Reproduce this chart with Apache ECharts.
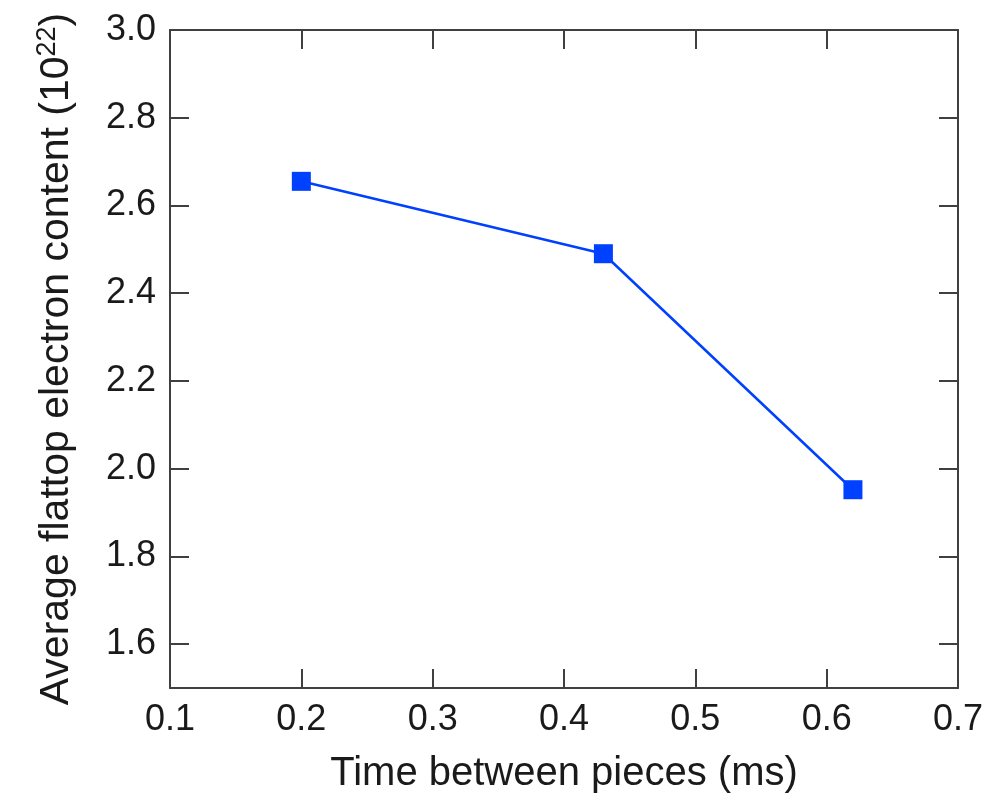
<!DOCTYPE html>
<html><head><meta charset="utf-8">
<script src="https://cdn.jsdelivr.net/npm/echarts@6/dist/echarts.min.js"></script>
<style>html,body{margin:0;padding:0;background:#fff}#c{width:986px;height:796px}</style>
</head><body><div id="c"></div>
<script>
const xValues = [0.2, 0.43, 0.62];
const yValues = [2.655, 2.49, 1.952];
const xTicks = [0.1, 0.2, 0.3, 0.4, 0.5, 0.6, 0.7];
const yTicks = [1.6, 1.8, 2.0, 2.2, 2.4, 2.6, 2.8, 3.0];
const xTitle = 'Time between pieces (ms)';
const yTitle = 'Average flattop electron content (10';
const ySup = '22';

const axisColor = '#404040';
const font = 'Liberation Sans, Arial, sans-serif';
const chart = echarts.init(document.getElementById('c'));
function axisBase(ticks, showLabels) {
  return {
    type: 'value',
    axisLine: {show: true, onZero: false, lineStyle: {color: axisColor, width: 2}},
    axisTick: {show: true, inside: true, length: 19, customValues: ticks,
      lineStyle: {color: axisColor, width: 2}},
    axisLabel: {show: showLabels, customValues: ticks, fontFamily: font, fontSize: 36,
      color: '#1a1a1a', margin: 14, formatter: v => v.toFixed(1)},
    splitLine: {show: false}
  };
}
chart.setOption({
  animation: false,
  grid: {left: 170, right: 28, top: 30, bottom: 108, outerBoundsMode: 'none', containLabel: false},
  xAxis: [
    Object.assign(axisBase(xTicks, true), {min: 0.1, max: 0.7,
      name: xTitle, nameLocation: 'middle', nameGap: 66,
      nameTextStyle: {fontFamily: font, fontSize: 40, color: '#1a1a1a'}}),
    Object.assign(axisBase(xTicks, false), {position: 'top', min: 0.1, max: 0.7})
  ],
  yAxis: [
    Object.assign(axisBase(yTicks, true), {min: 1.5, max: 3.0,
      name: yTitle + '{sup|' + ySup + '})', nameLocation: 'middle', nameGap: 90, nameRotate: 90,
      nameTextStyle: {fontFamily: font, fontSize: 41, color: '#1a1a1a', lineHeight: 46,
        rich: {sup: {fontFamily: font, fontSize: 27, verticalAlign: 'top', lineHeight: 46, color: '#1a1a1a'}}}}),
    Object.assign(axisBase(yTicks, false), {position: 'right', min: 1.5, max: 3.0})
  ],
  series: [{
    type: 'line',
    data: xValues.map((x, i) => [x, yValues[i]]),
    symbol: 'rect', symbolSize: 19,
    itemStyle: {color: '#0040ff'},
    lineStyle: {color: '#0040ff', width: 2.5}
  }]
});
</script></body></html>
